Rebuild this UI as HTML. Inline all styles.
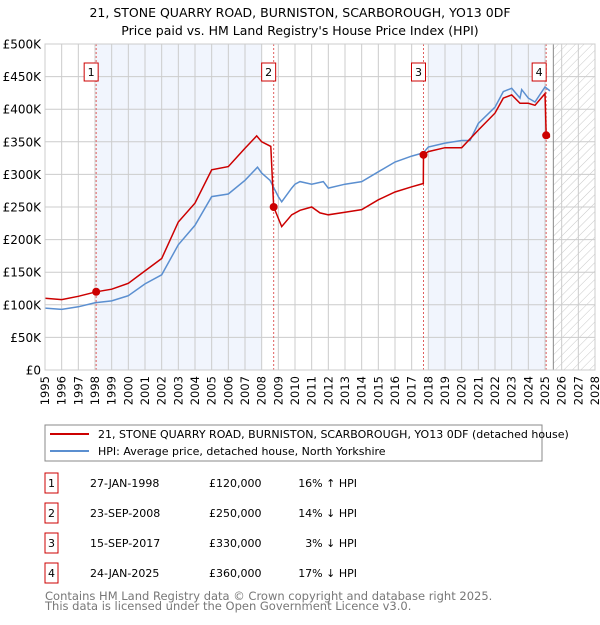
<!DOCTYPE html>
<html><head><meta charset="utf-8"><style>
body{margin:0;width:600px;height:620px;background:#fff;font-family:"Liberation Sans","DejaVu Sans",sans-serif;overflow:hidden}
svg text{font-family:"DejaVu Sans","Liberation Sans",sans-serif}
</style></head><body>
<svg id="chart" width="600" height="620" xmlns="http://www.w3.org/2000/svg">
<text x="300" y="17" font-size="12.5" text-anchor="middle">21, STONE QUARRY ROAD, BURNISTON, SCARBOROUGH, YO13 0DF</text>
<text x="300" y="35" font-size="12.5" text-anchor="middle">Price paid vs. HM Land Registry's House Price Index (HPI)</text>
<defs><pattern id="hatch" patternUnits="userSpaceOnUse" width="6" height="6" patternTransform="rotate(45)"><line x1="0" y1="0" x2="0" y2="6" stroke="#bbb" stroke-width="0.8"/></pattern></defs>
<g id="plot"></g>
<rect x="45" y="425" width="497" height="36" fill="#fff" stroke="#888"/>
<line x1="50" y1="434" x2="89" y2="434" stroke="#cc0000" stroke-width="2"/>
<text x="98" y="438" font-size="11">21, STONE QUARRY ROAD, BURNISTON, SCARBOROUGH, YO13 0DF (detached house)</text>
<line x1="50" y1="451" x2="89" y2="451" stroke="#5b8fd0" stroke-width="2"/>
<text x="98" y="455" font-size="11">HPI: Average price, detached house, North Yorkshire</text>
<g id="table" font-size="11"></g>
<text x="45" y="600" font-size="11.5" fill="#777">Contains HM Land Registry data © Crown copyright and database right 2025.</text>
<text x="45" y="610" font-size="11.5" fill="#777">This data is licensed under the Open Government Licence v3.0.</text>
</svg>
<script>
const hpiYears=[1995,1996,1997,1998,1999,2000,2001,2002,2003,2004,2005,2006,2007,2007.75,2008,2008.5,2009,2009.2,2009.8,2010,2010.3,2011,2011.7,2012,2013,2014,2015,2016,2017,2017.7,2018,2019,2020,2020.5,2021,2022,2022.5,2023,2023.5,2023.6,2024,2024.4,2025,2025.3];
const hpiValues=[95,93,97,103,106,114,132,146,192,222,266,270,291,311,302,291,266,258,279,285,289,285,289,279,285,289,304,319,328,333,342,348,352,352,378,403,427,432,417,430,417,411,434,428];
const redYears=[1995,1996,1997,1998.07,1999,2000,2001,2002,2003,2004,2005,2006,2007,2007.7,2008,2008.55,2008.72,2009.2,2009.8,2010.3,2011,2011.5,2012,2013,2014,2015,2016,2017,2017.7,2017.71,2018,2019,2020,2021,2022,2022.5,2023,2023.5,2024,2024.4,2025,2025.07,2025.3];
const redValues=[110,108,113,120,124,133,152,171,227,256,307,312,340,359,350,343,250,220,238,245,250,241,238,242,246,261,273,281,286,330,335,341,341,368,394,417,422,409,409,406,424,360,357];
const saleLabels=["1","2","3","4"];
const saleYears=[1998.07,2008.72,2017.71,2025.07];
const salePrices=[120,250,330,360];
const saleDates=["27-JAN-1998","23-SEP-2008","15-SEP-2017","24-JAN-2025"];
const salePriceText=["£120,000","£250,000","£330,000","£360,000"];
const saleHpiText=["16% ↑ HPI","14% ↓ HPI","3% ↓ HPI","17% ↓ HPI"];
const yTicks=[0,50,100,150,200,250,300,350,400,450,500];
const yTickLabels=["£0","£50K","£100K","£150K","£200K","£250K","£300K","£350K","£400K","£450K","£500K"];
const xTicks=[];for(let y=1995;y<=2028;y++)xTicks.push(y);

const NS="http://www.w3.org/2000/svg";
const X0=45,X1=595,Y0=370,Y1=44;
const xs=v=>X0+(v-1995)/(2028-1995)*(X1-X0);
const ys=v=>Y0-v/500*(Y0-Y1);
const plot=document.getElementById('plot');
function mk(tag,attrs,parent){const e=document.createElementNS(NS,tag);for(const k in attrs)e.setAttribute(k,attrs[k]);(parent||plot).appendChild(e);return e;}

let e;
e=mk('rect',{x:X0,y:Y1,width:X1-X0,height:Y0-Y1,fill:'#fff'});
e=mk('rect',{x:xs(saleYears[0]),y:Y1,width:xs(2008)-xs(saleYears[0]),height:Y0-Y1,fill:'#eef3fd',opacity:0.8});


e=mk('rect',{x:xs(2018),y:Y1,width:xs(saleYears[3])-xs(2018),height:Y0-Y1,fill:'#eef3fd',opacity:0.8});


e=mk('rect',{x:xs(2025.5),y:Y1,width:X1-xs(2025.5),height:Y0-Y1,fill:'url(#hatch)'});


xTicks.forEach(t=>{
 e=mk('line',{x1:xs(t),y1:Y1,x2:xs(t),y2:Y0,stroke:'#ccc','stroke-width':1});
 e=mk('text',{x:0,y:0,'font-size':11.5,'text-anchor':'end',transform:`translate(${xs(t)+4},${Y0+6}) rotate(-90)`});
 e.textContent=t;
 
 
});
yTicks.forEach((t,i)=>{
 e=mk('line',{x1:X0,y1:ys(t),x2:X1,y2:ys(t),stroke:'#ccc','stroke-width':1});
 e=mk('text',{x:41,y:ys(t)+4.5,'font-size':12,'text-anchor':'end'});
 e.textContent=yTickLabels[i];
 
 
});
e=mk('line',{x1:xs(2025.5),y1:Y1,x2:xs(2025.5),y2:Y0,stroke:'#888','stroke-width':1});
saleYears.forEach((s,i)=>{
 e=mk('line',{x1:xs(s),y1:Y1,x2:xs(s),y2:Y0,stroke:'#e06060','stroke-width':1,'stroke-dasharray':'2,2'});
 
 
 const bx=xs(s)-(i===3?10:8)-4;
 e=mk('rect',{x:bx,y:63,width:14,height:18,fill:'#fff',stroke:'#cc0000'});
 
 
 e=mk('text',{x:bx+7,y:76,'font-size':11,'text-anchor':'middle'});
 e.textContent=saleLabels[i];
});
const path=(xa,va)=>xa.map((x,i)=>(i?'L':'M')+xs(x).toFixed(1)+','+ys(va[i]).toFixed(1)).join('');
e=mk('path',{d:path(hpiYears,hpiValues),fill:'none',stroke:'#5b8fd0','stroke-width':1.5});


e=mk('path',{d:path(redYears,redValues),fill:'none',stroke:'#cc0000','stroke-width':1.5});


saleYears.forEach((s,i)=>{
 e=mk('circle',{cx:xs(s),cy:ys(salePrices[i]),r:4,fill:'#cc0000'});
 
 
});
e=mk('rect',{x:X0,y:Y1,width:X1-X0,height:Y0-Y1,fill:'none',stroke:'#ccc'});

const tbl=document.getElementById('table');
saleLabels.forEach((l,i)=>{
 const cy=483+i*30;
 e=mk('rect',{x:45,y:cy-10,width:13,height:20,fill:'#fff',stroke:'#cc0000'},tbl);
 
 
 e=mk('text',{x:51.5,y:cy+4,'text-anchor':'middle'},tbl);e.textContent=l;
 e=mk('text',{x:90,y:cy+4},tbl);e.textContent=saleDates[i];
 
 
 e=mk('text',{x:209,y:cy+4},tbl);e.textContent=salePriceText[i];
 
 
 e=mk('text',{x:357,y:cy+4,'text-anchor':'end'},tbl);e.textContent=saleHpiText[i];
 
 
});
</script>
</body></html>
